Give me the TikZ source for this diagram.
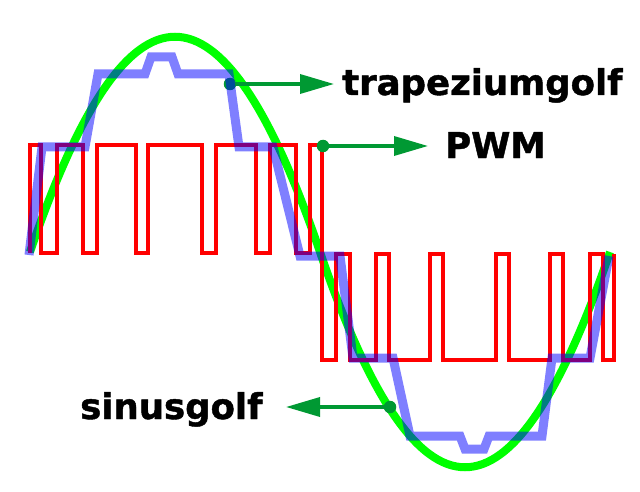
\documentclass[tikz,border=0pt]{standalone}
\usepackage{fontspec}
\setmainfont{DejaVu Sans}
\newfontfamily\labelfont[FakeBold=1.2]{DejaVu Sans}
\usetikzlibrary{arrows.meta}
\definecolor{arrowgreen}{RGB}{0,153,51}
\definecolor{sinegreen}{RGB}{0,255,0}
\definecolor{pwmred}{RGB}{255,0,0}
\definecolor{trapblue}{RGB}{0,0,255}
\tikzset{
  sinewave/.style={draw=sinegreen, line width=8pt},
  pwmwave/.style={draw=pwmred, line width=4pt, line join=miter},
  trapwave/.style={draw=trapblue, draw opacity=0.5, line width=9pt, line join=miter},
  dotmark/.style={circle, fill=arrowgreen, inner sep=0pt, minimum size=12.5pt},
  pointer/.style={draw=arrowgreen, line width=3.5pt, -{Triangle[length=34pt,width=19pt]}},
  labeltext/.style={inner sep=0pt, font=\labelfont\bfseries\fontsize{35.5}{40}\selectfont, text=black}
}
\begin{document}
\begin{tikzpicture}[x=1pt, y=-1pt]
\useasboundingbox (0,0) rectangle (640,492);
\fill[white] (0,0) rectangle (640,492);
% sine wave
\draw[sinewave] (30,252) .. controls (128,-35) and (222,-35) .. (320,252)
  .. controls (418,539) and (512,539) .. (610,252);
% PWM
\draw[pwmwave] (30,253) -- (30,145) -- (41,145) -- (41,253) -- (57,253) -- (57,145)
  -- (83,145) -- (83,253) -- (97,253) -- (97,145) -- (136,145) -- (136,253)
  -- (148,253) -- (148,145) -- (202,145) -- (202,253) -- (216,253) -- (216,145)
  -- (256,145) -- (256,253) -- (270,253) -- (270,145) -- (296,145) -- (296,253)
  -- (310,253) -- (310,145) -- (322,145) -- (322,360) -- (336,360) -- (336,254)
  -- (350,254) -- (350,360) -- (376,360) -- (376,254) -- (389,254) -- (389,360)
  -- (430,360) -- (430,254) -- (443,254) -- (443,360) -- (496,360) -- (496,254)
  -- (509,254) -- (509,360) -- (550,360) -- (550,254) -- (563,254) -- (563,360)
  -- (590,360) -- (590,254) -- (603,254) -- (603,360) -- (614,360) -- (614,254);
% labels and pointers
\node[dotmark] (trapDot) at (230,84) {};
\node[dotmark] (pwmDot) at (323,146) {};
\node[dotmark] (sinDot) at (390,407) {};
\coordinate (trapTip) at (334,84);
\coordinate (pwmTip) at (428,146);
\coordinate (sinTip) at (286,407);
\draw[pointer] (trapDot.center) -- (trapTip);
\draw[pointer] (pwmDot.center) -- (pwmTip);
\draw[pointer] (sinDot.center) -- (sinTip);
\node[labeltext, anchor=base west] (trapLabel) at (342,95) {trapeziumgolf};
\node[labeltext, anchor=base west] (pwmLabel) at (445,158) {PWM};
\node[labeltext, anchor=base west] (sinLabel) at (80,419) {sinusgolf};
% trapezoid wave
\draw[trapwave] (29,255) -- (42,147) -- (85,147) -- (98,74) -- (145,74) -- (151,57)
  -- (172,57) -- (178,74) -- (229,74) -- (239,147) -- (273,147) -- (300,256)
  -- (340,256) -- (353,358) -- (393,358) -- (410,436) -- (460,436) -- (465,449)
  -- (484,449) -- (489,436) -- (542,436) -- (552,358) -- (590,358) -- (609,256);
\end{tikzpicture}
\end{document}
